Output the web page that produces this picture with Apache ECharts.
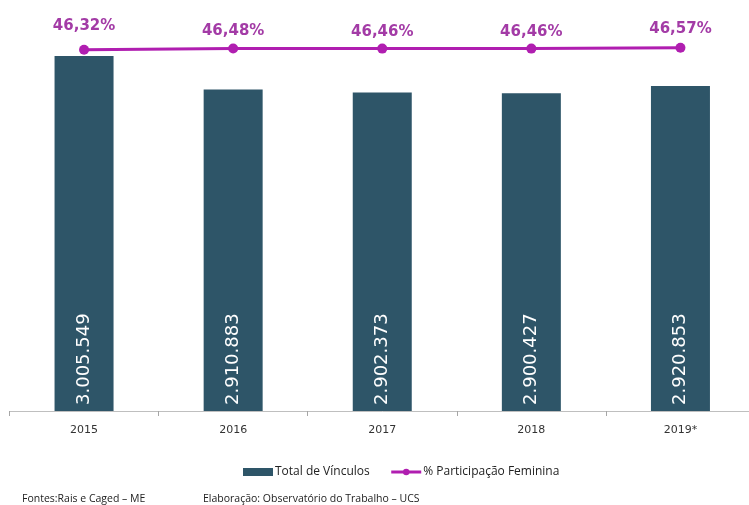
<!DOCTYPE html>
<html>
<head>
<meta charset="utf-8">
<script src="https://cdn.jsdelivr.net/npm/echarts@6/dist/echarts.min.js"></script>
<style>html,body{margin:0;padding:0;background:#fff;overflow:hidden;width:749px;height:505px;}#c{width:755px;height:505px;}</style>
</head>
<body>
<div id="c"></div>
<script>
var categories = ['2015', '2016', '2017', '2018', '2019*'];
var totalVinculos = [3005549, 2910883, 2902373, 2900427, 2920853];
var participacaoFeminina = [46.32, 46.48, 46.46, 46.46, 46.57];
var seriesNames = ['Total de Vínculos', '% Participação Feminina'];
var footerLeft = 'Fontes:Rais e Caged – ME';
var footerRight = 'Elaboração: Observatório do Trabalho – UCS';

var labelDistances = [11.5, 4.5, 4.5, 4.5, 6];

function fmtThousands(v) {
  return String(v).replace(/\B(?=(\d{3})+(?!\d))/g, '.');
}

var chart = echarts.init(document.getElementById('c'), null, {renderer: 'canvas'});
chart.setOption({
  animation: false,
  backgroundColor: '#ffffff',
  grid: {left: 9.5, right: 0, top: 21, bottom: 94, containLabel: false},
  legend: {
    left: 238, top: 461,
    itemWidth: 30, itemHeight: 8, itemGap: 20,
    textStyle: {fontFamily: 'Open Sans', fontSize: 12, color: '#222', padding: [0, 0, 0, -3]},
    data: [
      {name: seriesNames[0], icon: 'rect'},
      {name: seriesNames[1], lineStyle: {width: 3, color: '#B01EB0'}, itemStyle: {color: '#B01EB0'}}
    ]
  },
  xAxis: {
    type: 'category', data: categories,
    axisLine: {lineStyle: {color: '#BFBFBF', width: 1}},
    axisTick: {show: true, length: 5, lineStyle: {color: '#A6A6A6'}},
    axisLabel: {fontFamily: 'DejaVu Sans', fontSize: 11, color: '#333', margin: 14}
  },
  yAxis: [
    {type: 'value', min: 2000000, max: 3105000, show: false, splitLine: {show: false}},
    {type: 'value', min: 0, max: 50, show: false, splitLine: {show: false}}
  ],
  series: [
    {
      name: seriesNames[0], type: 'bar', yAxisIndex: 0, barWidth: 59,
      data: totalVinculos,
      itemStyle: {color: '#2E5568'},
      label: {
        show: true, position: 'insideBottom', rotate: 90, distance: 6,
        align: 'left', verticalAlign: 'middle',
        fontFamily: 'DejaVu Sans', fontSize: 18, color: '#ffffff',
        formatter: function (p) { return fmtThousands(p.value); }
      }
    },
    {
      name: seriesNames[1], type: 'line', yAxisIndex: 1,
      data: participacaoFeminina.map(function (v, i) {
        return {value: v, label: {distance: labelDistances[i]}};
      }),
      symbol: 'circle', symbolSize: 10,
      lineStyle: {color: '#B01EB0', width: 3},
      itemStyle: {color: '#B01EB0'},
      label: {
        show: true, position: 'top',
        fontFamily: 'DejaVu Sans', fontWeight: 'bold', fontSize: 15, color: '#A33BA6',
        formatter: function (p) { return p.value.toFixed(2).replace('.', ',') + '%'; }
      }
    }
  ],
  graphic: [
    {type: 'text', left: 22, top: 494, style: {text: footerLeft, font: '10.5px "Open Sans"', fill: '#222'}},
    {type: 'text', left: 203, top: 494, style: {text: footerRight, font: '10.5px "Open Sans"', fill: '#222'}}
  ]
});
</script>
</body>
</html>
